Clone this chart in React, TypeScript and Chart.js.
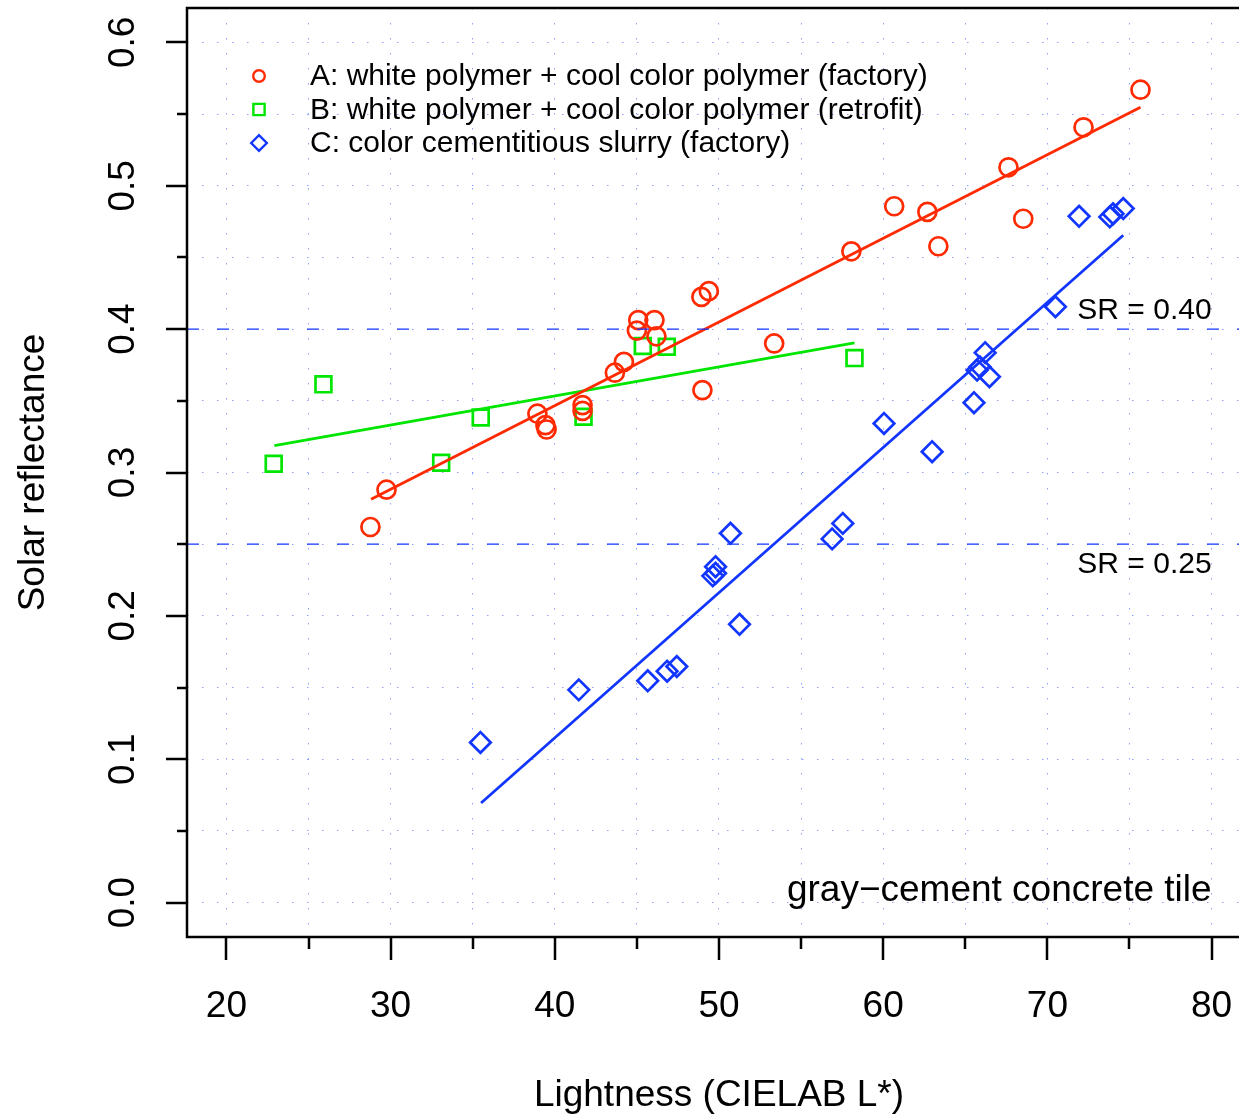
import React, { useEffect, useRef } from 'react';
import { Chart, registerables } from 'chart.js';

Chart.register(...registerables);

const FONT = '"Liberation Sans", Arial, Helvetica, sans-serif';

// ---------- data ----------
const seriesNames = [
  'A: white polymer + cool color polymer (factory)',
  'B: white polymer + cool color polymer (retrofit)',
  'C: color cementitious slurry (factory)',
];

const seriesA_L = [28.77, 29.75, 38.94, 39.43, 39.5, 41.69, 41.69, 43.66, 44.21, 45.08, 46.07, 45.0, 46.19, 48.93, 49.38, 53.36, 48.99, 58.06, 60.67, 62.69, 63.36, 67.63, 68.53, 72.2, 75.67];
const seriesA_SR = [0.262, 0.288, 0.341, 0.333, 0.33, 0.347, 0.343, 0.3696, 0.3772, 0.4063, 0.4063, 0.399, 0.395, 0.4225, 0.4265, 0.39, 0.3575, 0.4543, 0.4857, 0.4818, 0.4578, 0.5129, 0.477, 0.5408, 0.567];

const seriesB_L = [22.88, 25.91, 33.08, 35.49, 41.75, 45.36, 46.82, 58.25];
const seriesB_SR = [0.3061, 0.3615, 0.3068, 0.3384, 0.3389, 0.3882, 0.3877, 0.3798];

const seriesC_L = [35.47, 41.46, 45.66, 46.84, 47.43, 51.25, 49.62, 49.79, 49.79, 50.7, 56.89, 57.54, 60.05, 62.98, 65.53, 65.72, 65.89, 66.21, 66.47, 70.49, 71.93, 73.8, 74.0, 74.62];
const seriesC_SR = [0.1117, 0.1484, 0.1547, 0.1614, 0.1647, 0.1941, 0.2279, 0.2297, 0.2343, 0.2576, 0.2537, 0.2645, 0.3342, 0.3145, 0.3487, 0.3714, 0.3737, 0.3836, 0.3668, 0.4156, 0.4787, 0.4783, 0.4805, 0.4841];

const fitA_L = [28.81, 75.67];
const fitA_SR = [0.2813, 0.5547];
const fitB_L = [22.92, 58.25];
const fitB_SR = [0.3187, 0.3905];
const fitC_L = [35.51, 74.62];
const fitC_SR = [0.0695, 0.4655];

const srLevels = [0.4, 0.25];
const srSpan = [17.6, 82.4];

const xRange = [17.6, 82.4];
const yRange = [-0.024, 0.624];

const xMajorTicks = [20, 30, 40, 50, 60, 70, 80];
const xMinorTicks = [25, 35, 45, 55, 65, 75];
const xTickLabels = ['20', '30', '40', '50', '60', '70', '80'];
const yMajorTicks = [0, 0.1, 0.2, 0.3, 0.4, 0.5, 0.6];
const yMinorTicks = [0.05, 0.15, 0.25, 0.35, 0.45, 0.55];
const yTickLabels = ['0.0', '0.1', '0.2', '0.3', '0.4', '0.5', '0.6'];

const annotations = [
  { text: 'SR = 0.40', x: 80, y: 0.4125, size: 30 },
  { text: 'SR = 0.25', x: 80, y: 0.2355, size: 30 },
  { text: 'gray\u2212cement concrete tile', x: 80, y: 0.0084, size: 37 },
];

const RED = '#ff2a00';
const GREEN = '#00e600';
const BLUE = '#1236ff';
const seriesColors = [RED, GREEN, BLUE];
const seriesShapes = ['circle', 'square', 'diamond'];

const pts = (xs: number[], ys: number[]) => xs.map((x, i) => ({ x, y: ys[i] }));

function drawMarker(ctx: CanvasRenderingContext2D, shape: string, cx: number, cy: number, r: number) {
  ctx.beginPath();
  if (shape === 'circle') {
    ctx.arc(cx, cy, r, 0, Math.PI * 2);
  } else if (shape === 'square') {
    ctx.rect(cx - r, cy - r, 2 * r, 2 * r);
  } else {
    ctx.moveTo(cx - r, cy);
    ctx.lineTo(cx, cy - r);
    ctx.lineTo(cx + r, cy);
    ctx.lineTo(cx, cy + r);
    ctx.closePath();
  }
  ctx.stroke();
}

const decorPlugin = {
  id: 'decor',
  afterDraw(chart: any) {
    const { ctx, chartArea: ca, scales } = chart;
    const xs = scales.x;
    const ys = scales.y;
    ctx.save();
    // plot box
    ctx.strokeStyle = '#000';
    ctx.lineWidth = 2.5;
    ctx.strokeRect(ca.left, ca.top, ca.right - ca.left + 20, ca.bottom - ca.top);
    // tick marks
    ctx.beginPath();
    xMajorTicks.forEach((v) => {
      const p = Math.round(xs.getPixelForValue(v));
      ctx.moveTo(p, ca.bottom);
      ctx.lineTo(p, ca.bottom + 23);
    });
    xMinorTicks.forEach((v) => {
      const p = Math.round(xs.getPixelForValue(v));
      ctx.moveTo(p, ca.bottom);
      ctx.lineTo(p, ca.bottom + 12);
    });
    yMajorTicks.forEach((v) => {
      const p = Math.round(ys.getPixelForValue(v));
      ctx.moveTo(ca.left, p);
      ctx.lineTo(ca.left - 21, p);
    });
    yMinorTicks.forEach((v) => {
      const p = Math.round(ys.getPixelForValue(v));
      ctx.moveTo(ca.left, p);
      ctx.lineTo(ca.left - 10, p);
    });
    ctx.stroke();

    // annotations
    ctx.fillStyle = '#000';
    ctx.textAlign = 'right';
    ctx.textBaseline = 'middle';
    annotations.forEach((a) => {
      ctx.font = `${a.size}px ${FONT}`;
      ctx.fillText(a.text, xs.getPixelForValue(a.x), ys.getPixelForValue(a.y));
    });

    // legend
    ctx.font = `30px ${FONT}`;
    ctx.textAlign = 'left';
    seriesNames.forEach((name, i) => {
      const cy = ca.top + 68 + i * 33.5;
      const mx = ca.left + 72;
      ctx.strokeStyle = seriesColors[i];
      ctx.lineWidth = 2.4;
      const r = seriesShapes[i] === 'circle' ? 5.8 : seriesShapes[i] === 'square' ? 5.6 : 7.8;
      drawMarker(ctx, seriesShapes[i], mx, cy, r);
      ctx.fillStyle = '#000';
      ctx.fillText(name, ca.left + 123, cy + 1);
    });
    ctx.restore();
  },
};

const zeroPad = (scale: any) => {
  scale.paddingTop = 0;
  scale.paddingBottom = 0;
  scale.paddingLeft = 0;
  scale.paddingRight = 0;
};

export default function App() {
  const ref = useRef<HTMLCanvasElement>(null);
  useEffect(() => {
    const canvas = ref.current;
    if (!canvas) return;
    const scatterDs = (label: string, xs: number[], ys: number[], color: string, style: string, radius: number) => ({
      type: 'scatter' as const,
      label,
      data: pts(xs, ys),
      pointStyle: style,
      pointRadius: radius,
      pointHoverRadius: radius,
      pointBorderWidth: 2.7,
      borderColor: color,
      backgroundColor: 'rgba(0,0,0,0)',
      pointBackgroundColor: 'rgba(0,0,0,0)',
      showLine: false,
    });
    const lineDs = (label: string, xs: number[], ys: number[], color: string, width: number, dash: number[] = []) => ({
      type: 'line' as const,
      label,
      data: pts(xs, ys),
      borderColor: color,
      borderWidth: width,
      borderDash: dash,
      pointRadius: 0,
      pointHoverRadius: 0,
      fill: false,
      tension: 0,
    });
    const chart = new Chart(canvas, {
      type: 'scatter',
      data: {
        datasets: [
          ...srLevels.map((lv, i) => lineDs('SR' + i, srSpan, [lv, lv], BLUE, 1.3, [12, 18])),
          lineDs('fitA', fitA_L, fitA_SR, RED, 2.8),
          lineDs('fitB', fitB_L, fitB_SR, GREEN, 2.8),
          lineDs('fitC', fitC_L, fitC_SR, BLUE, 2.8),
          scatterDs(seriesNames[0], seriesA_L, seriesA_SR, RED, 'circle', 9),
          scatterDs(seriesNames[1], seriesB_L, seriesB_SR, GREEN, 'rect', 11.2),
          scatterDs(seriesNames[2], seriesC_L, seriesC_SR, BLUE, 'rectRot', 10.3),
        ] as any,
      },
      options: {
        responsive: false,
        animation: false,
        devicePixelRatio: 1,
        events: [],
        layout: { autoPadding: false, padding: { top: 8, left: 0, right: 0, bottom: 0 } },
        plugins: {
          legend: { display: false },
          tooltip: { enabled: false },
        },
        scales: {
          x: {
            type: 'linear',
            min: xRange[0],
            max: xRange[1],
            afterBuildTicks: (scale: any) => {
              scale.ticks = [...xMajorTicks, ...xMinorTicks].sort((a, b) => a - b).map((v) => ({ value: v }));
            },
            afterFit: (scale: any) => {
              scale.height = 177;
              zeroPad(scale);
            },
            ticks: {
              autoSkip: false,
              maxRotation: 0,
              minRotation: 0,
              padding: 48,
              color: '#000',
              font: { family: FONT, size: 37 },
              callback: (v: any) => {
                const i = xMajorTicks.indexOf(Number(v));
                return i >= 0 ? xTickLabels[i] : '';
              },
            },
            grid: { color: 'rgba(70,95,255,0.6)', lineWidth: 1, drawTicks: false },
            border: { display: false, dash: [1.5, 13.5] },
            title: {
              display: true,
              text: 'Lightness (CIELAB L*)',
              color: '#000',
              font: { family: FONT, size: 37 },
              padding: { top: 0, bottom: -4 },
            },
          },
          y: {
            type: 'linear',
            min: yRange[0],
            max: yRange[1],
            afterBuildTicks: (scale: any) => {
              scale.ticks = [...yMajorTicks, ...yMinorTicks].sort((a, b) => a - b).map((v) => ({ value: v }));
            },
            afterFit: (scale: any) => {
              scale.width = 187;
              zeroPad(scale);
            },
            ticks: {
              autoSkip: false,
              minRotation: 90,
              maxRotation: 90,
              crossAlign: 'center',
              padding: 37,
              color: '#000',
              font: { family: FONT, size: 37 },
              callback: (v: any) => {
                const i = yMajorTicks.findIndex((t) => Math.abs(t - Number(v)) < 1e-9);
                return i >= 0 ? yTickLabels[i] : '';
              },
            },
            grid: { color: 'rgba(70,95,255,0.6)', lineWidth: 1, drawTicks: false },
            border: { display: false, dash: [1.5, 13.5] },
            title: {
              display: true,
              text: 'Solar reflectance',
              color: '#000',
              font: { family: FONT, size: 37 },
              padding: { top: 12, bottom: 0 },
            },
          },
        },
      } as any,
      plugins: [decorPlugin],
    });
    return () => chart.destroy();
  }, []);

  return (
    <div style={{ position: 'fixed', left: 0, top: 0, width: 1239, height: 1114, overflow: 'hidden', background: '#fff' }}>
      <canvas ref={ref} width={1251} height={1114} style={{ width: 1251, height: 1114, display: 'block' }} />
    </div>
  );
}
